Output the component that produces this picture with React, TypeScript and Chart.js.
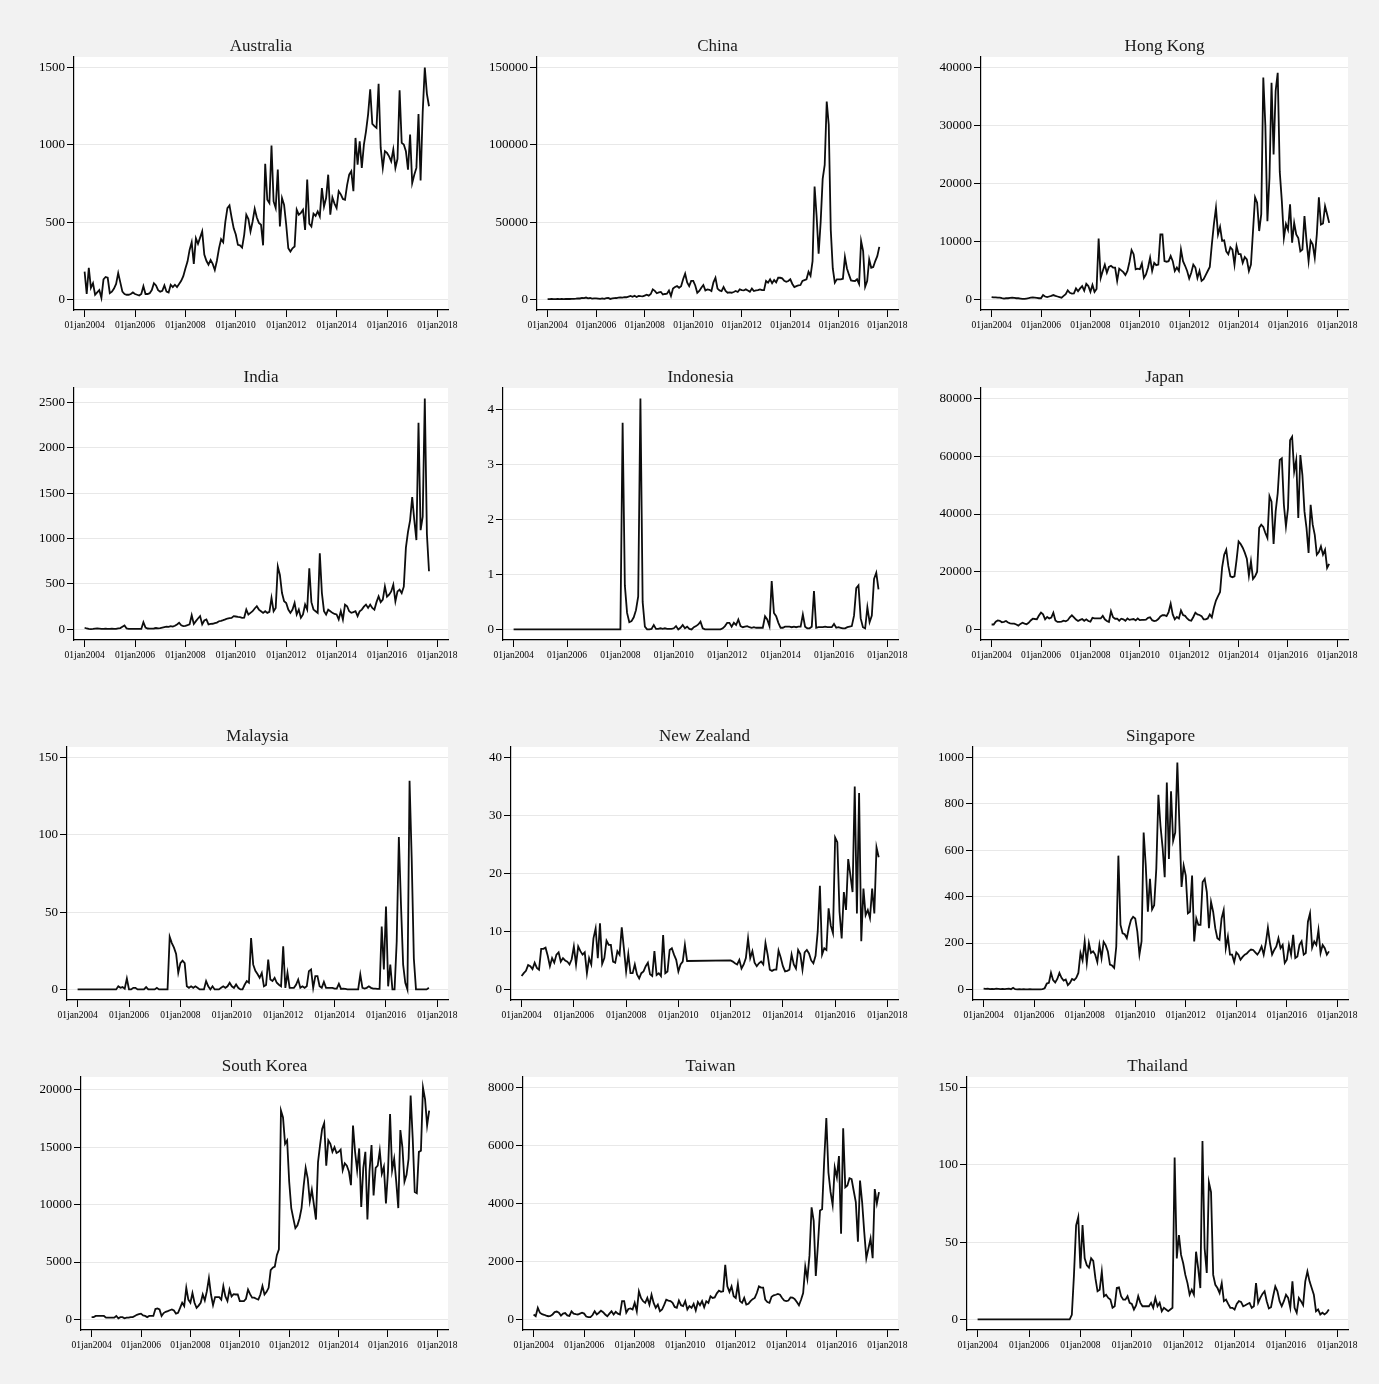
import React, { useEffect, useRef } from 'react';
import { Chart, registerables } from 'chart.js';

Chart.register(...registerables);

// ---------- x axis (monthly index, 0 = Jan 2004) ----------
const xTickMonths = [0, 24, 48, 72, 96, 120, 144, 168];
const xTickLabels = ['01jan2004', '01jan2006', '01jan2008', '01jan2010', '01jan2012', '01jan2014', '01jan2016', '01jan2018'];

// ---------- series: monthly, Jan 2004 .. Sep 2017 ----------
const australia = [
  180, 35, 205, 75, 105, 30, 45, 60, 10, 130, 145, 140,
  40, 50, 70, 100, 170, 110, 50, 35, 30, 30, 35, 45,
  35, 30, 25, 35, 85, 35, 35, 40, 60, 105, 90, 60,
  50, 55, 90, 50, 45, 95, 80, 95, 80, 100, 120, 150,
  200, 245, 320, 370, 230, 396, 360, 400, 440, 290, 250, 225,
  255, 230, 190, 250, 330, 390, 370, 500, 590, 608, 530, 460,
  420, 353, 350, 335, 418, 548, 520, 440, 504, 586, 530, 495,
  483, 350, 877, 645, 623, 996, 634, 591, 840, 472, 656, 612,
  483, 331, 310, 331, 342, 580, 548, 560, 580, 450, 775, 490,
  472, 555, 540, 569, 537, 720, 600, 656, 807, 548, 660, 620,
  591, 700, 680, 650, 645, 740, 807, 829, 700, 1045, 872, 1023,
  851, 1002, 1088, 1197, 1359, 1136, 1121, 1110, 1396, 980, 851, 959,
  948, 926, 894, 970, 851, 910, 1353, 1013, 1002, 959, 840, 1067,
  753, 807, 851, 1200, 770, 1210, 1500, 1330, 1250,
];

const china = [
  200, 200, 250, 200, 200, 250, 200, 250, 200, 250, 300, 250,
  300, 400, 500, 700, 600, 1000, 800, 1200, 700, 900, 500, 600,
  700, 500, 300, 600, 400, 800, 900, 300, 600, 800, 900, 1200,
  1300, 1200, 1500, 1400, 1800, 2200, 1700, 2400, 1600, 2300, 2100, 2000,
  2500, 3000, 2400, 3500, 6500, 5500, 4000, 4500, 4800, 3200, 3500, 3700,
  5800, 2200, 7000, 8000, 8600, 7500, 8500, 13000, 16600, 11000, 8600, 12000,
  12000, 9000, 4300, 5500, 7500, 9300, 5800, 6500, 6200, 5400, 11000, 14000,
  7000, 5800, 5400, 8000, 5500, 4300, 4500, 4300, 4800, 5400, 4800, 6500,
  6000, 5800, 6500, 5800, 5000, 7000, 5400, 5800, 6000, 6500, 6000, 6000,
  11900, 10800, 13000, 10500, 12500, 11000, 14000, 14000, 13600, 12000, 11400, 11900,
  13000, 10000, 8000, 8600, 9000, 9300, 12000, 12500, 13000, 17900, 15300, 24800,
  73000, 54000, 29600, 50000, 78000, 87000, 128000, 113000, 45000, 20000, 10800, 13000,
  13000, 13000, 13400, 27400, 20000, 16000, 12300, 12000, 11900, 13000, 10000, 37800,
  31300, 8200, 11900, 25900, 20500, 21000, 24800, 28000, 34000,
];

const hongKong = [
  400, 350, 350, 300, 300, 200, 150, 200, 200, 250, 300, 250,
  200, 200, 150, 100, 100, 150, 200, 300, 350, 300, 250, 200,
  200, 750, 500, 400, 500, 600, 750, 600, 500, 400, 300, 600,
  900, 1550, 1150, 1000, 1050, 1900, 1400, 1900, 2300, 1500, 2700, 2300,
  1300, 2500, 1300, 1800, 10500, 3700, 4900, 6000, 4600, 5600, 5800, 5500,
  5500, 3200, 5300, 5000, 4700, 4200, 4900, 6500, 8500, 7800, 5200, 5300,
  5200, 6200, 3700, 4300, 5500, 7200, 4900, 6300, 5900, 6000, 11200, 11200,
  6600, 6500, 6600, 7500, 6600, 4900, 5500, 4900, 8600, 6600, 5800, 4900,
  3600, 4600, 6000, 5500, 3700, 4900, 3200, 3500, 4200, 4900, 5600, 9500,
  13000, 15800, 11200, 12500, 10100, 10200, 8300, 7800, 9000, 8600, 6000, 9200,
  7800, 7800, 6300, 7300, 6900, 4900, 6000, 11800, 17600, 16700, 11800, 14700,
  38300, 30000, 13500, 21000, 37400, 25000, 36000, 39100, 22000, 17000, 10600, 13000,
  12000, 16400, 9800, 13200, 11200, 10600, 8300, 8600, 14400, 10100, 6600, 10100,
  9500, 7200, 11200, 17600, 12900, 13100, 16100, 14700, 13200,
];

const india = [
  18, 10, 5, 3, 5, 8, 10, 8, 5, 6, 8, 5,
  5, 8, 6, 5, 10, 15, 30, 44, 10, 5, 5, 5,
  5, 5, 5, 5, 80, 20, 10, 8, 8, 10, 15, 12,
  15, 20, 25, 30, 28, 36, 30, 40, 55, 73, 45, 36,
  40, 47, 55, 156, 60, 91, 120, 146, 55, 98, 109, 55,
  60, 62, 70, 75, 90, 95, 102, 110, 120, 125, 127, 146,
  142, 138, 135, 127, 130, 218, 164, 182, 200, 230, 255, 218,
  200, 182, 200, 182, 193, 346, 200, 237, 691, 600, 400, 309,
  291, 218, 182, 218, 291, 164, 218, 127, 164, 273, 218, 673,
  300, 218, 200, 182, 837, 400, 200, 164, 218, 200, 182, 170,
  164, 109, 200, 109, 273, 255, 200, 182, 190, 200, 146, 200,
  218, 250, 273, 237, 273, 237, 218, 300, 364, 300, 327, 473,
  360, 382, 418, 491, 309, 418, 437, 400, 470, 900, 1073, 1200,
  1456, 1201, 983, 2274, 1092, 1240, 2540, 1050, 640,
];

const indonesia = [
  0, 0, 0, 0, 0, 0, 0, 0, 0, 0, 0, 0,
  0, 0, 0, 0, 0, 0, 0, 0, 0, 0, 0, 0,
  0, 0, 0, 0, 0, 0, 0, 0, 0, 0, 0, 0,
  0, 0, 0, 0, 0, 0, 0, 0, 0, 0, 0, 0,
  0, 3.76, 0.8, 0.3, 0.13, 0.15, 0.22, 0.35, 0.6, 4.2, 0.5, 0.05,
  0, 0, 0.01, 0.08, 0.01, 0.01, 0.02, 0.01, 0.02, 0.01, 0.01, 0.01,
  0.02, 0.06, 0, 0.03, 0.08, 0.02, 0.05, 0.01, 0, 0.04, 0.06, 0.09,
  0.14, 0.02, 0, 0, 0, 0, 0, 0, 0, 0, 0.02, 0.06,
  0.12, 0.12, 0.05, 0.12, 0.08, 0.18, 0.06, 0.04, 0.05, 0.06, 0.04, 0.03,
  0.04, 0.03, 0.03, 0.03, 0.03, 0.24, 0.18, 0.06, 0.88, 0.3, 0.24, 0.12,
  0.03, 0.03, 0.05, 0.05, 0.05, 0.04, 0.05, 0.04, 0.05, 0.05, 0.27, 0.05,
  0.02, 0.02, 0.05, 0.7, 0.03, 0.04, 0.04, 0.04, 0.05, 0.04, 0.04, 0.04,
  0.1, 0.03, 0.04, 0.03, 0.02, 0.02, 0.04, 0.05, 0.06, 0.25, 0.75, 0.8,
  0.2, 0.04, 0.02, 0.4, 0.13, 0.25, 0.92, 1.03, 0.73,
];

const japan = [
  1700, 1700, 2700, 3100, 3000, 2500, 2600, 2900, 2400, 2100, 2000, 2000,
  1700, 1300, 1900, 2300, 2000, 1800, 2300, 3100, 3700, 3600, 3500, 4800,
  5800, 5200, 3500, 4300, 3800, 4100, 5800, 3100, 2600, 2600, 2700, 3000,
  2800, 3200, 4200, 4900, 4200, 3400, 2900, 3300, 3600, 3000, 3500, 2900,
  2700, 4000, 3800, 3800, 3800, 3800, 4700, 3500, 2900, 2600, 6300, 4200,
  3700, 3700, 3000, 3700, 3500, 3000, 3800, 3300, 3500, 3600, 3100, 3800,
  3200, 3300, 3300, 3400, 4000, 4200, 3200, 2900, 3000, 3600, 4500, 4900,
  4900, 4600, 6000, 8900, 5200, 3500, 4300, 3800, 6600, 5000, 4700, 3800,
  3200, 3000, 4300, 5800, 5200, 5000, 4600, 3500, 3500, 3800, 5200, 4200,
  7500, 10000, 11500, 13000, 21500, 25900, 27600, 22000, 18400, 18100, 18400, 24000,
  30500, 29600, 28300, 26600, 24500, 18600, 23600, 17500, 18400, 20000, 35200, 36300,
  35500, 33400, 31700, 46200, 44300, 29600, 40900, 47200, 58700, 59300, 43200, 35700,
  42000, 65600, 66800, 54700, 58700, 38600, 60400, 53500, 40900, 35100, 26500, 43200,
  36300, 32800, 25900, 26800, 28800, 25900, 27600, 21300, 22700,
];

const malaysia = [
  0, 0, 0, 0, 0, 0, 0, 0, 0, 0, 0, 0,
  0, 0, 0, 0, 0, 0, 0, 2, 1, 1.5, 0.5, 7,
  0, 0, 1, 1, 0, 0, 0, 0, 1.5, 0, 0, 0,
  0, 1, 0, 0, 0, 0, 0, 34, 30, 27, 23, 10.7,
  17, 18.6, 17, 2, 1, 2, 1, 2, 1, 0, 0, 0,
  5.4, 2, 0, 2, 0, 0, 0, 1, 2, 1, 2, 4.3,
  2, 1, 3.2, 1, 0, 0, 3, 5.4, 4.3, 33.2, 16, 12,
  10, 7.5, 10.7, 2, 2.8, 19.3, 6.4, 5.4, 7.5, 4.3, 3, 2,
  27.9, 1, 10.7, 1, 1, 1, 3, 6.4, 1, 2, 1, 2,
  11.8, 12.9, 1, 8.6, 8.6, 2, 1, 4.9, 1, 1, 1, 1,
  0.5, 0.5, 3.6, 0.3, 0.5, 0.3, 0, 0, 0, 0, 0, 0,
  9.6, 1, 0.5, 1, 2, 1, 0.5, 0.5, 0.3, 0.3, 40.7, 12.9,
  53.6, 2, 16, 0, 0, 31, 98.6, 54.6, 16, 4.3, 0, 135,
  84.6, 20, 0, 0, 0, 0, 0, 0, 1,
];

const newZealand = [
  2.3, 2.8, 3.2, 4.2, 4.0, 3.5, 4.6, 3.7, 3.4, 7.0, 7.0, 7.2,
  5.8, 4.0, 5.4, 4.6, 6.0, 6.4, 4.8, 5.4, 5.0, 4.8, 4.3, 5.2,
  7.4, 4.3, 7.4, 6.6, 6.0, 6.4, 2.8, 5.4, 4.3, 8.8, 10.5, 5.4,
  11.4, 4.4, 5.4, 8.4, 7.7, 7.7, 4.8, 4.6, 6.6, 6.0, 10.7, 7.0,
  3.1, 6.1, 2.8, 2.8, 4.3, 2.6, 1.9, 2.8, 3.1, 4.0, 4.6, 2.6,
  2.3, 6.6, 2.5, 2.8, 2.3, 9.4, 2.8, 3.1, 6.8, 7.1, 6.0, 5.1,
  3.1, 4.3, 4.8, 7.7, 4.9, null, null, null, null, null, null, null,
  null, null, null, null, null, null, null, null, null, null, null, null,
  5.0, 4.8, 4.5, 4.3, 5.1, 3.6, 4.3, 5.4, 8.8, 5.4, 6.6, 4.6,
  4.0, 4.5, 4.8, 4.3, 8.0, 6.0, 3.4, 3.2, 3.4, 3.4, 6.7, 5.5,
  4.0, 3.1, 3.2, 3.4, 6.0, 4.3, 3.6, 6.8, 6.1, 3.4, 6.4, 6.8,
  6.2, 5.0, 4.5, 5.8, 10.0, 17.9, 6.0, 7.1, 6.8, 14.0, 11.0, 9.7,
  26.2, 25.4, 13.4, 8.8, 16.8, 13.7, 22.5, 19.7, 16.8, 35.0, 13.1, 33.9,
  8.3, 17.4, 12.8, 13.7, 12.3, 17.4, 13.1, 24.5, 22.8,
];

const singapore = [
  3, 2, 3, 1, 2, 1, 3, 2, 1, 2, 1, 2,
  3, 1, 7, 1, 0, 1, 0, 1, 0, 0, 1, 0,
  0, 0, 0, 0, 1, 5, 25, 28, 72, 40, 30, 45,
  71, 50, 38, 43, 18.5, 28, 45, 40, 50, 71, 157, 125,
  207, 114, 199, 157, 164, 150, 118, 192, 135, 205, 190, 164,
  107, 103, 93, 185, 577, 278, 242, 238, 221, 266, 300, 313,
  306, 249, 150, 207, 677, 534, 335, 477, 345, 363, 520, 840,
  705, 612, 484, 893, 563, 855, 641, 677, 979, 705, 442, 534,
  491, 328, 335, 491, 207, 306, 278, 278, 463, 477, 420, 264,
  377, 335, 264, 221, 214, 306, 342, 178, 228, 150, 150, 118,
  160, 150, 128, 140, 150, 155, 165, 172, 170, 160, 150, 164,
  185, 150, 200, 266, 199, 150, 170, 185, 221, 178, 192, 114,
  128, 192, 150, 235, 135, 142, 192, 207, 150, 157, 292, 328,
  180, 207, 192, 256, 157, 192, 178, 150, 164,
];

const southKorea = [
  200, 200, 300, 300, 300, 300, 300, 150, 150, 150, 150, 150,
  300, 100, 200, 200, 100, 150, 150, 200, 200, 300, 400, 450,
  500, 350, 300, 200, 300, 300, 300, 900, 950, 870, 300, 550,
  660, 720, 800, 870, 780, 500, 580, 1000, 1450, 1160, 2750, 1730,
  1450, 2300, 1450, 1000, 1200, 1450, 2170, 1650, 2460, 3600, 2170, 1240,
  1940, 1940, 1940, 1730, 2900, 2000, 1600, 2600, 2000, 2200, 2170, 2170,
  1600, 1600, 1600, 1800, 2600, 2200, 1900, 1900, 1800, 1730, 2170, 2900,
  2170, 2400, 2750, 4300, 4500, 4600, 5600, 6100, 18200, 17600, 15300, 15600,
  12000, 9700, 8800, 7950, 8200, 8800, 9700, 11600, 13200, 12300, 10300, 11300,
  10000, 8700, 13700, 15200, 16600, 17100, 13400, 15600, 15300, 14600, 15000, 14500,
  14600, 14800, 13000, 13600, 13400, 12900, 11700, 16900, 14600, 13000, 14900, 9800,
  13200, 14600, 8700, 12900, 15200, 10800, 13200, 13400, 14700, 12700, 13300, 10100,
  12900, 17900, 13000, 14000, 12000, 9700, 16500, 15000, 12000, 12600, 14000, 19500,
  15800, 11100, 11000, 14600, 14700, 20200, 19200, 16900, 18200,
];

const taiwan = [
  170, 110, 400, 230, 180, 160, 130, 110, 120, 170, 250, 270,
  230, 130, 200, 220, 140, 120, 280, 200, 180, 170, 200, 230,
  200, 100, 80, 80, 150, 280, 170, 230, 300, 250, 170, 110,
  200, 280, 170, 260, 200, 170, 630, 630, 230, 360, 380, 340,
  570, 280, 970, 740, 630, 570, 740, 510, 850, 570, 400, 510,
  280, 340, 500, 680, 650, 630, 570, 430, 400, 650, 490, 460,
  630, 340, 460, 400, 540, 310, 600, 490, 630, 420, 630, 570,
  800, 740, 760, 900, 990, 950, 970, 1880, 1140, 950, 1140, 800,
  740, 1220, 630, 570, 740, 510, 540, 630, 700, 740, 910, 1140,
  1100, 1100, 680, 600, 570, 780, 830, 850, 880, 850, 740, 650,
  630, 650, 760, 750, 700, 600, 490, 680, 910, 1820, 1400, 2200,
  3870, 3400, 1500, 2560, 3760, 3800, 5500, 6950, 5070, 4400, 3950, 5240,
  4900, 5640, 2960, 6600, 4560, 4620, 4870, 4840, 4440, 4050, 2680, 4790,
  4050, 3020, 2110, 2450, 2790, 2110, 4500, 4000, 4390,
];

const thailand = [
  0, 0, 0, 0, 0, 0, 0, 0, 0, 0, 0, 0,
  0, 0, 0, 0, 0, 0, 0, 0, 0, 0, 0, 0,
  0, 0, 0, 0, 0, 0, 0, 0, 0, 0, 0, 0,
  0, 0, 0, 0, 0, 0, 0, 0, 3, 28.8, 60.9, 66.2,
  33, 61, 39.5, 35, 33.5, 39.5, 37.8, 26.7, 18.2, 19.2, 31, 15,
  16, 13.9, 12.8, 7.5, 8.5, 20.3, 20.7, 15, 12.8, 12.8, 15, 10.7,
  10, 6.4, 9, 15, 10.7, 8.5, 8.5, 8.5, 8.5, 10.7, 7.5, 13.9,
  8.5, 10.7, 5.3, 7.5, 6.4, 5.3, 6.4, 7.5, 104.7, 39.5, 54.5, 41.7,
  36.3, 28.8, 23.5, 16, 19.2, 16, 43.8, 33, 20.3, 115.4, 46, 30,
  88.7, 82.3, 28.8, 22.4, 20.3, 17.1, 23.5, 11.8, 12.8, 10, 7.5, 7.5,
  6.4, 10, 11.8, 11.3, 8.5, 9.2, 10, 10.7, 7.5, 8.5, 23.5, 10.7,
  13.9, 16.5, 18.2, 11.8, 7.1, 7.9, 15, 21.4, 18.2, 11.8, 8.5, 11.8,
  16, 13.9, 7.5, 24.6, 7.5, 4.3, 13.9, 11.8, 9.2, 24.6, 31, 24.6,
  20.3, 16, 5.3, 6.4, 3.2, 4.3, 3.2, 4.3, 6.4,
];

// ---------- y tick values ----------
const australiaTicks = [0, 500, 1000, 1500];
const chinaTicks = [0, 50000, 100000, 150000];
const hongKongTicks = [0, 10000, 20000, 30000, 40000];
const indiaTicks = [0, 500, 1000, 1500, 2000, 2500];
const indonesiaTicks = [0, 1, 2, 3, 4];
const japanTicks = [0, 20000, 40000, 60000, 80000];
const malaysiaTicks = [0, 50, 100, 150];
const newZealandTicks = [0, 10, 20, 30, 40];
const singaporeTicks = [0, 200, 400, 600, 800, 1000];
const southKoreaTicks = [0, 5000, 10000, 15000, 20000];
const taiwanTicks = [0, 2000, 4000, 6000, 8000];
const thailandTicks = [0, 50, 100, 150];

// ---------- layout (page pixels of each plot region) ----------
const ROW_TOP = [57, 388, 747, 1077];
const ROW_BOTTOM = [310, 640, 1000, 1330];
const COL_RIGHT = [448, 898, 1348];

type Panel = {
  title: string;
  values: (number | null)[];
  ticks: number[];
  left: number;
  row: number;
  col: number;
};

const panels: Panel[] = [
  { title: 'Australia', values: australia, ticks: australiaTicks, left: 74, row: 0, col: 0 },
  { title: 'China', values: china, ticks: chinaTicks, left: 537, row: 0, col: 1 },
  { title: 'Hong Kong', values: hongKong, ticks: hongKongTicks, left: 981, row: 0, col: 2 },
  { title: 'India', values: india, ticks: indiaTicks, left: 74, row: 1, col: 0 },
  { title: 'Indonesia', values: indonesia, ticks: indonesiaTicks, left: 503, row: 1, col: 1 },
  { title: 'Japan', values: japan, ticks: japanTicks, left: 981, row: 1, col: 2 },
  { title: 'Malaysia', values: malaysia, ticks: malaysiaTicks, left: 67, row: 2, col: 0 },
  { title: 'New Zealand', values: newZealand, ticks: newZealandTicks, left: 511, row: 2, col: 1 },
  { title: 'Singapore', values: singapore, ticks: singaporeTicks, left: 973, row: 2, col: 2 },
  { title: 'South Korea', values: southKorea, ticks: southKoreaTicks, left: 81, row: 3, col: 0 },
  { title: 'Taiwan', values: taiwan, ticks: taiwanTicks, left: 523, row: 3, col: 1 },
  { title: 'Thailand', values: thailand, ticks: thailandTicks, left: 967, row: 3, col: 2 },
];

const FONT = '"Liberation Serif", "Times New Roman", Times, serif';
const PAD = 10.6; // plot-region margin in px
const LEFT_SPACE = 70;
const RIGHT_SPACE = 40;
const TOP_SPACE = 32;
const BOTTOM_SPACE = 30;

const plotBackground = {
  id: 'plotBackground',
  beforeDraw(chart: any) {
    const { ctx, chartArea: a } = chart;
    ctx.save();
    ctx.fillStyle = '#ffffff';
    ctx.fillRect(a.left, a.top, a.right - a.left, a.bottom - a.top);
    ctx.restore();
  },
};

// title centred over the plot region (as in the original graphs)
const panelTitle = {
  id: 'panelTitle',
  afterDraw(chart: any, _args: any, opts: any) {
    const { ctx, chartArea: a } = chart;
    ctx.save();
    ctx.font = `17px ${FONT}`;
    ctx.fillStyle = '#1a1a1a';
    ctx.textAlign = 'center';
    ctx.textBaseline = 'middle';
    ctx.fillText(opts.text, (a.left + a.right) / 2, a.top - 10.5);
    ctx.restore();
  },
};

function PanelChart({ p }: { p: Panel }) {
  const ref = useRef<HTMLCanvasElement>(null);
  const top = ROW_TOP[p.row];
  const bottom = ROW_BOTTOM[p.row];
  const right = COL_RIGHT[p.col];
  const W = right - p.left;
  const H = bottom - top;
  const cw = W + LEFT_SPACE + RIGHT_SPACE;
  const ch = H + TOP_SPACE + BOTTOM_SPACE;

  useEffect(() => {
    if (!ref.current) return;
    const nums = p.values.filter((v) => v !== null) as number[];
    const hi = Math.max(p.ticks[p.ticks.length - 1], ...nums);
    const lo = Math.min(0, ...nums);
    const yPad = (PAD * (hi - lo)) / (H - 2 * PAD);
    const xSpan = xTickMonths[xTickMonths.length - 1];
    const xPad = (PAD * xSpan) / (W - 2 * PAD);

    const chart = new Chart(ref.current, {
      type: 'line',
      data: {
        datasets: [
          {
            data: p.values.map((v, i) => ({ x: i, y: v })) as any,
            borderColor: '#0d0d0d',
            borderWidth: 1.8,
            pointRadius: 0,
            tension: 0,
            fill: false,
            spanGaps: true,
            borderJoinStyle: 'miter',
          },
        ],
      },
      options: {
        animation: false,
        responsive: false,
        maintainAspectRatio: false,
        events: [],
        layout: { padding: { left: 0, right: RIGHT_SPACE, top: TOP_SPACE, bottom: 0 } },
        plugins: {
          legend: { display: false },
          tooltip: { enabled: false },
          title: { display: false },
          panelTitle: { text: p.title },
        },
        scales: {
          x: {
            type: 'linear',
            bounds: 'data',
            min: -xPad,
            max: xSpan + xPad,
            afterBuildTicks: (s: any) => {
              s.ticks = xTickMonths.map((v) => ({ value: v }));
            },
            afterFit: (s: any) => {
              s.height = BOTTOM_SPACE;
            },
            ticks: {
              autoSkip: false,
              maxRotation: 0,
              minRotation: 0,
              padding: 3,
              color: '#000',
              font: { family: FONT, size: 9.5 },
              callback: (_v: any, i: number) => xTickLabels[i],
            },
            grid: {
              drawOnChartArea: false,
              drawTicks: true,
              tickLength: 7,
              tickColor: '#000',
              tickWidth: 1,
            },
            border: { display: true, color: '#000', width: 1.2 },
          },
          y: {
            type: 'linear',
            bounds: 'data',
            min: lo - yPad,
            max: hi + yPad,
            afterBuildTicks: (s: any) => {
              s.ticks = p.ticks.map((v) => ({ value: v }));
            },
            afterFit: (s: any) => {
              s.width = LEFT_SPACE;
            },
            ticks: {
              autoSkip: false,
              padding: 2,
              color: '#000',
              font: { family: FONT, size: 13 },
              callback: (v: any) => String(v),
            },
            grid: {
              color: '#e8e8e8',
              lineWidth: 1,
              drawTicks: true,
              tickLength: 7,
              tickColor: '#000',
              tickWidth: 1,
            },
            border: { display: true, color: '#000', width: 1.2 },
          },
        },
      } as any,
      plugins: [plotBackground, panelTitle],
    });
    return () => chart.destroy();
  }, [p]);

  return (
    <canvas
      ref={ref}
      width={cw}
      height={ch}
      style={{
        position: 'absolute',
        left: p.left - LEFT_SPACE,
        top: top - TOP_SPACE,
        width: cw,
        height: ch,
      }}
    />
  );
}

export default function App() {
  return (
    <div
      style={{
        position: 'absolute',
        left: 0,
        top: 0,
        width: 1379,
        height: 1384,
        background: '#f2f2f2',
        overflow: 'hidden',
      }}
    >
      {panels.map((p) => (
        <PanelChart key={p.title} p={p} />
      ))}
    </div>
  );
}
